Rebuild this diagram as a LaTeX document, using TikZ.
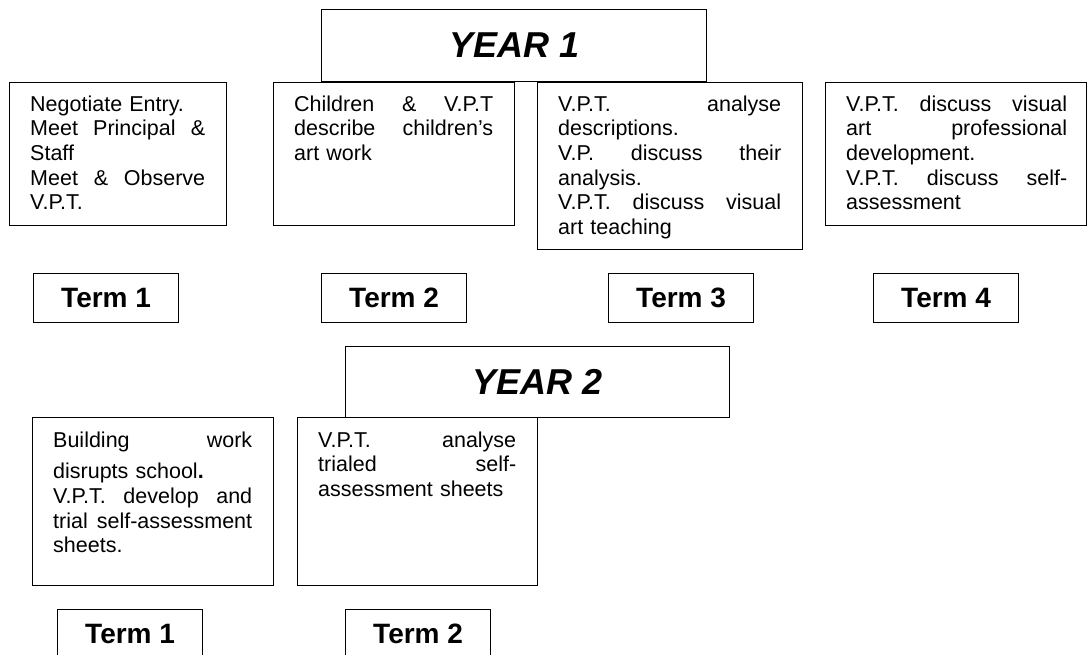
\documentclass[tikz,border=0pt]{standalone}
\usepackage{fontspec}
\setmainfont{Liberation Sans}
\newcommand\jl[2]{\leavevmode\hbox to #1{#2}}
\tikzset{
  frame/.style={draw, line width=1.2pt, inner sep=0pt, anchor=north west},
  txt/.style={inner sep=0pt, anchor=base west, align=left, font=\fontsize{21.5}{24.7}\selectfont},
  term/.style={frame, minimum width=145pt, minimum height=49pt, font=\fontsize{28}{32}\selectfont\bfseries},
  year/.style={frame, font=\fontsize{36}{40}\selectfont\bfseries\itshape},
}
\begin{document}
\begin{tikzpicture}[x=1pt,y=-1pt]
\clip (0,0) rectangle (1088,654);
% YEAR 1
\node[year, minimum width=385pt, minimum height=72pt] (Y1) at (321,9) {YEAR 1};
% Year 1 boxes
\node[frame, minimum width=217pt, minimum height=143pt] (A) at (9,82) {};
\node[txt, text width=175pt] (At) at ([shift={(21pt,-29pt)}]A.north west)
  {Negotiate Entry.\\ \jl{175pt}{Meet\hfill Principal\hfill \&}\\ Staff\\ \jl{175pt}{Meet\hfill \&\hfill Observe}\\ V.P.T.};
\node[frame, minimum width=241pt, minimum height=143pt] (B) at (273,82) {};
\node[txt, text width=199pt] (Bt) at ([shift={(21pt,-29pt)}]B.north west)
  {\jl{199pt}{Children\hfill \&\hfill V.P.T}\\ \jl{199pt}{describe\hfill children’s}\\ art work};
\node[frame, minimum width=265pt, minimum height=167pt] (C) at (537,82) {};
\node[txt, text width=223pt] (Ct) at ([shift={(21pt,-29pt)}]C.north west)
  {\jl{223pt}{V.P.T.\hfill analyse}\\ descriptions.\\ \jl{223pt}{V.P.\hfill discuss\hfill their}\\ analysis.\\ \jl{223pt}{V.P.T.\hfill discuss\hfill visual}\\ art teaching};
\node[frame, minimum width=261pt, minimum height=143pt] (D) at (825,82) {};
\node[txt, text width=221pt] (Dt) at ([shift={(21pt,-29pt)}]D.north west)
  {\jl{221pt}{V.P.T.\hfill discuss\hfill visual}\\ \jl{221pt}{art\hfill professional}\\ development.\\ \jl{221pt}{V.P.T.\hfill discuss\hfill self-}\\ assessment};
% Terms year 1
\node[term] (T11) at (33,273) {Term 1};
\node[term] (T12) at (321,273) {Term 2};
\node[term] (T13) at (608,273) {Term 3};
\node[term] (T14) at (873,273) {Term 4};
% YEAR 2
\node[year, minimum width=384pt, minimum height=71pt] (Y2) at (345,346) {YEAR 2};
\node[frame, minimum width=241pt, minimum height=168pt] (E) at (32,417) {};
\node[txt, text width=199pt] (Et) at ([shift={(21pt,-30pt)}]E.north west)
  {\jl{199pt}{Building\hfill work}\\[7pt] disrupts school\textbf{.}\\ \jl{199pt}{V.P.T.\hfill develop\hfill and}\\ \jl{199pt}{trial\hfill self-assessment}\\ sheets.};
\node[frame, minimum width=240pt, minimum height=168pt] (F) at (297,417) {};
\node[txt, text width=198pt] (Ft) at ([shift={(21pt,-30pt)}]F.north west)
  {\jl{198pt}{V.P.T.\hfill analyse}\\ \jl{198pt}{trialed\hfill self-}\\ assessment sheets};
% Terms year 2
\node[term] (T21) at (57,609) {Term 1};
\node[term] (T22) at (345,609) {Term 2};
\end{tikzpicture}
\end{document}
